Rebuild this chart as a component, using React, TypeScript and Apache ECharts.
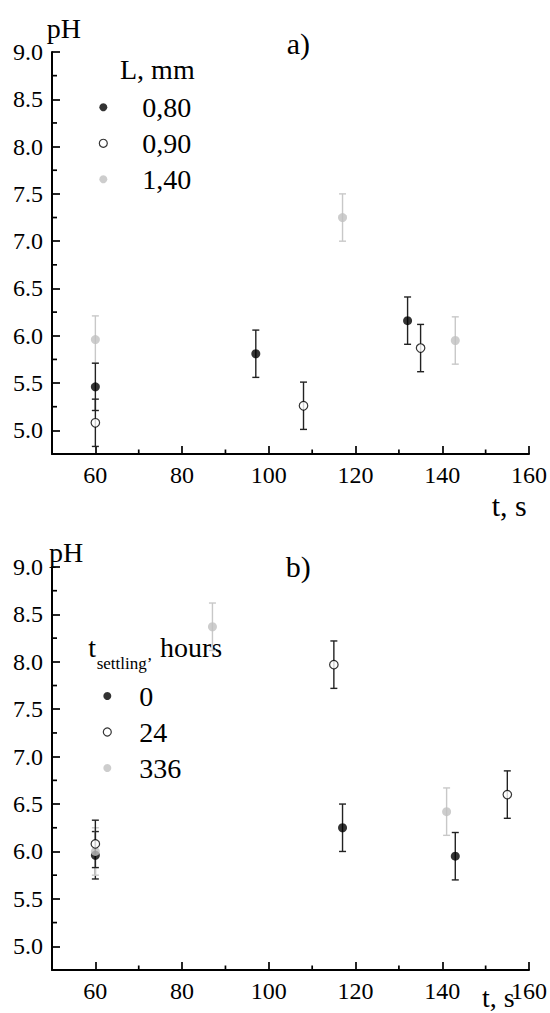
import React, { useEffect, useRef } from "react";
import * as echarts from "echarts";

// ---------- data ----------
const xMin = 50;
const xMax = 160;
const yMin = 4.75;
const yMax = 9.0;
const xTicks = [60, 80, 100, 120, 140, 160];
const xMinorTicks = [70, 90, 110, 130, 150];
const yTicks = [5.0, 5.5, 6.0, 6.5, 7.0, 7.5, 8.0, 8.5, 9.0];
const yMinorTicks = [5.25, 5.75, 6.25, 6.75, 7.25, 7.75, 8.25, 8.75];

// panel a) L, mm
const aNames = ["0,80", "0,90", "1,40"];
const a080X = [60, 97, 132];
const a080Y = [5.46, 5.81, 6.16];
const a080Err = [0.25, 0.25, 0.25];
const a090X = [60, 108, 135];
const a090Y = [5.08, 5.26, 5.87];
const a090Err = [0.25, 0.25, 0.25];
const a140X = [60, 117, 143];
const a140Y = [5.96, 7.25, 5.95];
const a140Err = [0.25, 0.25, 0.25];

// panel b) t settling, hours
const bNames = ["0", "24", "336"];
const b0X = [60, 117, 143];
const b0Y = [5.96, 6.25, 5.95];
const b0Err = [0.25, 0.25, 0.25];
const b24X = [60, 115, 155];
const b24Y = [6.08, 7.97, 6.6];
const b24Err = [0.25, 0.25, 0.25];
const b336X = [60, 87, 141];
const b336Y = [6.0, 8.37, 6.42];
const b336Err = [0.25, 0.25, 0.25];

const FONT = "'Liberation Serif', 'Times New Roman', serif";
const BLACK = "#000";
const GRAY = "#c0c0c0";
const GRAY_ERR = "#c8c8c8";
const DARK_ERR = "#222";

function pts(xs: number[], ys: number[]) {
  return xs.map((x, i) => [x, ys[i]]);
}
function errs(xs: number[], ys: number[], es: number[]) {
  return xs.map((x, i) => [x, ys[i] - es[i], ys[i] + es[i]]);
}

function errorSeries(data: number[][], color: string, axis: number, z: number) {
  return {
    type: "custom",
    xAxisIndex: axis,
    yAxisIndex: axis,
    z,
    silent: true,
    encode: { x: 0, y: [1, 2] },
    data,
    renderItem: (params: any, api: any) => {
      const x = api.value(0);
      const lo = api.coord([x, api.value(1)]);
      const hi = api.coord([x, api.value(2)]);
      const w = 3.5;
      const st = { stroke: color, lineWidth: 1.4 };
      return {
        type: "group",
        children: [
          { type: "line", shape: { x1: lo[0], y1: lo[1], x2: hi[0], y2: hi[1] }, style: st },
          { type: "line", shape: { x1: lo[0] - w, y1: lo[1], x2: lo[0] + w, y2: lo[1] }, style: st },
          { type: "line", shape: { x1: hi[0] - w, y1: hi[1], x2: hi[0] + w, y2: hi[1] }, style: st },
        ],
      };
    },
  };
}

// minor ticks placed through the axes' own scale
function minorTickSeries(axis: number, dir: "x" | "y") {
  const data = dir === "x" ? xMinorTicks.map((v) => [v, yMin]) : yMinorTicks.map((v) => [xMin, v]);
  return {
    type: "custom",
    xAxisIndex: axis,
    yAxisIndex: axis,
    z: 10,
    silent: true,
    clip: false,
    encode: { x: 0, y: 1 },
    data,
    renderItem: (params: any, api: any) => {
      const p = api.coord([api.value(0), api.value(1)]);
      const shape =
        dir === "x"
          ? { x1: p[0], y1: p[1], x2: p[0], y2: p[1] - 4.5 }
          : { x1: p[0], y1: p[1], x2: p[0] + 5, y2: p[1] };
      return { type: "line", shape, style: { stroke: "#000", lineWidth: 1.7 } };
    },
  };
}

function scatter(name: string, data: number[][], kind: "black" | "open" | "gray", axis: number, z: number) {
  const itemStyle =
    kind === "black"
      ? { color: BLACK, borderWidth: 0 }
      : kind === "open"
      ? { color: "#fff", borderColor: BLACK, borderWidth: 1.2 }
      : { color: GRAY, borderWidth: 0 };
  return {
    type: "scatter",
    name,
    xAxisIndex: axis,
    yAxisIndex: axis,
    symbol: "circle",
    symbolSize: kind === "open" ? 8.5 : 9,
    itemStyle,
    z,
    data,
  };
}

const labelStyle = { fontFamily: FONT, fontSize: 24, color: "#000" };

function xAxis(grid: number) {
  return {
    type: "value",
    gridIndex: grid,
    position: "bottom",
    min: xMin,
    max: xMax,
    axisLine: { show: true, onZero: false, lineStyle: { color: "#000", width: 2 } },
    axisTick: { show: true, inside: true, length: 8, customValues: xTicks, lineStyle: { color: "#000", width: 1.7 } },
    axisLabel: { show: true, customValues: xTicks, margin: 9, ...labelStyle },
    splitLine: { show: false },
  };
}

function yAxis(grid: number) {
  return {
    type: "value",
    gridIndex: grid,
    position: "left",
    min: yMin,
    max: yMax,
    axisLine: { show: true, onZero: false, lineStyle: { color: "#000", width: 2 } },
    axisTick: { show: true, inside: true, length: 8, customValues: yTicks, lineStyle: { color: "#000", width: 1.7 } },
    axisLabel: {
      show: true,
      customValues: yTicks,
      margin: 9,
      formatter: (v: number) => Number(v).toFixed(1),
      ...labelStyle,
    },
    splitLine: { show: false },
  };
}

function txt(text: string, x: number, y: number, size: number) {
  return {
    type: "text",
    x,
    y,
    silent: true,
    style: {
      text,
      fontFamily: FONT,
      fontSize: size,
      fill: "#000",
      textAlign: "left",
      textVerticalAlign: "middle",
      verticalAlign: "middle",
    },
  };
}

function legendCfg(names: string[], left: number, top: number, padLeft: number) {
  return {
    orient: "vertical",
    left,
    top,
    padding: 0,
    itemWidth: 8,
    itemHeight: 8,
    itemGap: 8,
    selectedMode: false,
    icon: "circle",
    data: names.map((n, i) => (i === 1 ? { name: n, itemStyle: { borderWidth: 1.2 } } : { name: n })),
    textStyle: { fontFamily: FONT, fontSize: 28, lineHeight: 28, color: "#000", padding: [0, 0, 0, padLeft] },
  };
}

export default function App() {
  const ref = useRef<HTMLDivElement>(null);
  useEffect(() => {
    if (!ref.current) return;
    const chart = echarts.init(ref.current, undefined, { renderer: "svg" });
    const option: any = {
      animation: false,
      backgroundColor: "#fff",
      grid: [
        { left: 52, top: 52, width: 477, height: 402 },
        { left: 52, top: 567, width: 477, height: 403 },
      ],
      xAxis: [xAxis(0), xAxis(1)],
      yAxis: [yAxis(0), yAxis(1)],
      legend: [legendCfg(aNames, 98.7, 93.3, 30), legendCfg(bNames, 102.7, 682, 23)],
      series: [
        minorTickSeries(0, "x"),
        minorTickSeries(0, "y"),
        minorTickSeries(1, "x"),
        minorTickSeries(1, "y"),
        // panel a
        errorSeries(errs(a080X, a080Y, a080Err), DARK_ERR, 0, 2),
        errorSeries(errs(a090X, a090Y, a090Err), DARK_ERR, 0, 2),
        errorSeries(errs(a140X, a140Y, a140Err), GRAY_ERR, 0, 1),
        scatter(aNames[0], pts(a080X, a080Y), "black", 0, 5),
        scatter(aNames[1], pts(a090X, a090Y), "open", 0, 6),
        scatter(aNames[2], pts(a140X, a140Y), "gray", 0, 4),
        // panel b
        errorSeries(errs(b0X, b0Y, b0Err), DARK_ERR, 1, 2),
        errorSeries(errs(b336X, b336Y, b336Err), GRAY_ERR, 1, 2),
        errorSeries(errs(b24X, b24Y, b24Err), DARK_ERR, 1, 2),
        scatter(bNames[0], pts(b0X, b0Y), "black", 1, 4),
        scatter(bNames[2], pts(b336X, b336Y), "gray", 1, 5),
        scatter(bNames[1], pts(b24X, b24Y), "open", 1, 6),
      ],
      graphic: [
        txt("pH", 46.7, 28, 28),
        txt("a)", 286.7, 43, 30),
        txt("L, mm", 120, 69.5, 28),
        txt("t, s", 491.7, 505, 30),
        txt("pH", 49, 552, 28),
        txt("b)", 285.8, 566, 30),
        txt("t", 88.3, 647.2, 28),
        txt("settling’", 96.7, 663.5, 17),
        txt("hours", 160, 647.2, 28),
        txt("t, s", 482, 997, 28),
      ],
    };
    chart.setOption(option);
    return () => chart.dispose();
  }, []);
  return (
    <div
      ref={ref}
      style={{ position: "absolute", left: 0, top: 0, width: 550, height: 1013, background: "#fff" }}
    />
  );
}
